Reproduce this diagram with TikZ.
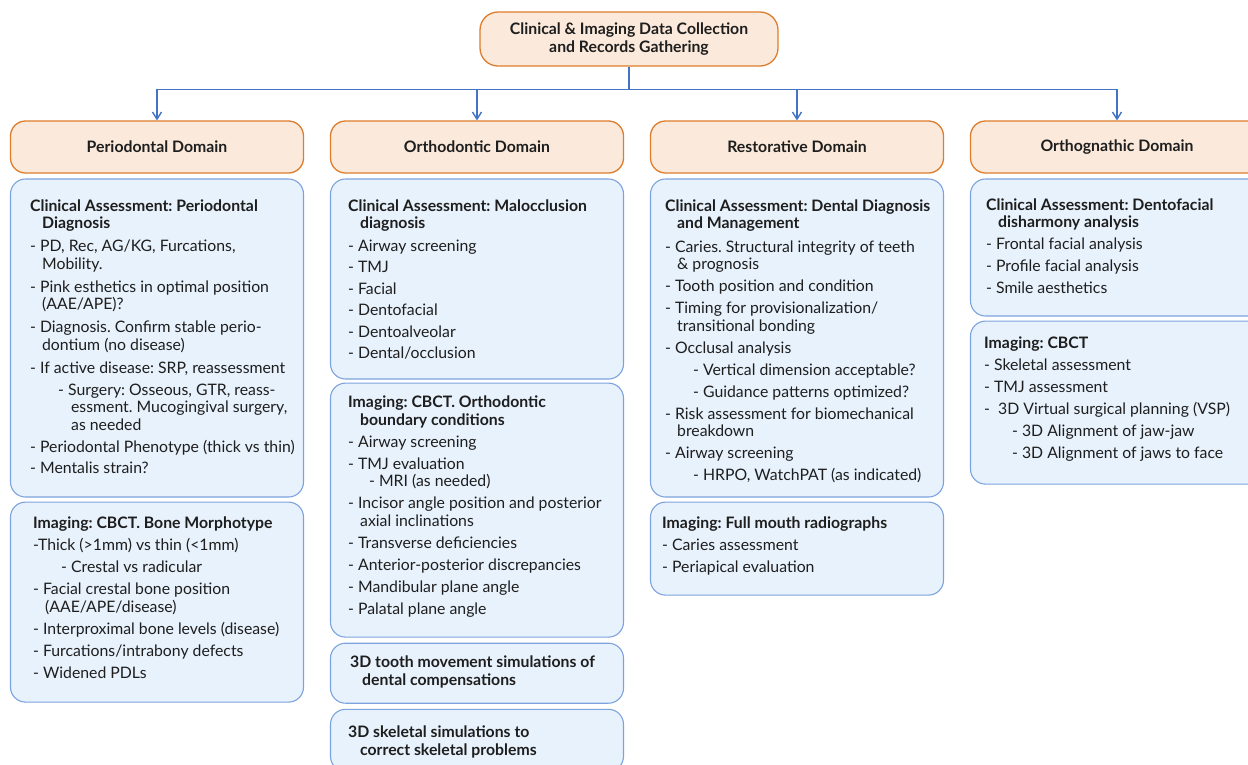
\documentclass[tikz,border=0pt]{standalone}
\usepackage{fontspec}
\setmainfont{Lato}
\usetikzlibrary{arrows.meta,positioning}
\definecolor{domainfill}{RGB}{251,234,219}
\definecolor{domainline}{RGB}{222,125,45}
\definecolor{infofill}{RGB}{232,242,252}
\definecolor{infoline}{RGB}{125,163,222}
\definecolor{linkblue}{RGB}{68,114,196}
\definecolor{textdark}{RGB}{30,30,30}
\newcommand{\indcont}{\hspace*{12pt}}
\newcommand{\indsub}{\hspace*{28pt}}
\newcommand{\indsubcont}{\hspace*{41pt}}
\frenchspacing

\begin{document}
\begin{tikzpicture}[x=1pt,y=-1pt,
    every node/.style={text=textdark},
    domainbox/.style={draw=domainline,fill=domainfill,line width=1.3pt,rounded corners=15pt,minimum width=293pt,minimum height=52pt,font=\fontsize{15.8}{18}\selectfont\bfseries},
    infobox/.style={draw=infoline,fill=infofill,line width=1.1pt,rounded corners=15pt,minimum width=293pt,inner sep=0pt},
    boxtext/.style={anchor=north west,align=left,inner sep=0pt,font=\fontsize{15.8}{17.5}\selectfont},
    link/.style={draw=linkblue,line width=1.4pt,-{Straight Barb[length=7pt,width=9pt]}}]
		\path[use as bounding box,fill=white] (0,0) rectangle (1248,764);

		\node[domainbox,minimum width=298pt,minimum height=54pt,rounded corners=18pt,align=center] (collect) at (629,39) {Clinical \& Imaging Data Collection\\and Records Gathering};
		\node[domainbox] (perio) at (157,147) {Periodontal Domain};
		\node[domainbox,right=25.7pt of perio] (ortho) {Orthodontic Domain};
		\node[domainbox,right=25.7pt of ortho] (resto) {Restorative Domain};
		\node[domainbox,right=25.7pt of resto] (gnath) {Orthognathic Domain};

		\coordinate[below=23pt of collect.south] (bar);
		\draw[link] (collect.south) -- (bar) -| (perio.north);
		\draw[link] (collect.south) -- (bar) -| (ortho.north);
		\draw[link] (collect.south) -- (bar) -| (resto.north);
		\draw[link] (collect.south) -- (bar) -| (gnath.north);

		% boxes under each domain.
		\node[infobox,minimum height=318pt,below=4.8pt of perio] (pclin) {};
		\node[infobox,minimum height=200pt,below=4pt of pclin] (pimg) {};
		\node[infobox,minimum height=200pt,below=4.8pt of ortho] (oclin) {};
		\node[infobox,minimum height=254pt,below=3pt of oclin] (oimg) {};
		\node[infobox,minimum height=60pt,below=5pt of oimg] (otooth) {};
		\node[infobox,minimum height=62pt,below=5pt of otooth] (oskel) {};
		\node[infobox,minimum height=318pt,below=4.8pt of resto] (rclin) {};
		\node[infobox,minimum height=93pt,below=4pt of rclin] (rimg) {};
		\node[infobox,minimum height=137pt,below=4.8pt of gnath] (gclin) {};
		\node[infobox,minimum height=163pt,below=4pt of gclin] (gimg) {};

		% texts of the boxes.
		\node[boxtext] (pclintxt) at ([xshift=20pt,yshift=-21pt]pclin.north west) {\textbf{Clinical Assessment: Periodontal}\\
			\indcont\textbf{Diagnosis}\\[5.5pt]
			- PD, Rec, AG/KG, Furcations,\\
			\indcont Mobility.\\[5.5pt]
			- Pink esthetics in optimal position\\
			\indcont (AAE/APE)?\\[5.5pt]
			- Diagnosis. Confirm stable perio-\\
			\indcont dontium (no disease)\\[5.5pt]
			- If active disease: SRP, reassessment\\[4.5pt]
			\indsub - Surgery: Osseous, GTR, reass-\\
			\indsubcont essment. Mucogingival surgery,\\
			\indsubcont as needed\\[5pt]
			- Periodontal Phenotype (thick vs thin)\\[3.5pt]
			- Mentalis strain?};
		\node[boxtext] (pimgtxt) at ([xshift=23pt,yshift=-15pt]pimg.north west) {\textbf{Imaging: CBCT. Bone Morphotype}\\[4.5pt]
			-Thick (>1mm) vs thin (<1mm)\\[4.5pt]
			\indsub - Crestal vs radicular\\[4.5pt]
			- Facial crestal bone position\\
			\indcont (AAE/APE/disease)\\[4.5pt]
			- Interproximal bone levels (disease)\\[4.5pt]
			- Furcations/intrabony defects\\[4.5pt]
			- Widened PDLs};

		\node[boxtext] (oclintxt) at ([xshift=18pt,yshift=-21pt]oclin.north west) {\textbf{Clinical Assessment: Malocclusion}\\
			\indcont\textbf{diagnosis}\\[5pt]
			- Airway screening\\[4pt]
			- TMJ\\[4pt]
			- Facial\\[4pt]
			- Dentofacial\\[4pt]
			- Dentoalveolar\\[4pt]
			- Dental/occlusion};
		\node[boxtext] (oimgtxt) at ([xshift=18pt,yshift=-13pt]oimg.north west) {\textbf{Imaging: CBCT. Orthodontic}\\
			\indcont\textbf{boundary conditions}\\[4.5pt]
			- Airway screening\\[4.5pt]
			- TMJ evaluation\\
			\hspace*{21pt}- MRI (as needed)\\[4.5pt]
			- Incisor angle position and posterior\\
			\indcont axial inclinations\\[4.5pt]
			- Transverse deficiencies\\[4.5pt]
			- Anterior-posterior discrepancies\\[4.5pt]
			- Mandibular plane angle\\[4.5pt]
			- Palatal plane angle};
		\node[boxtext] (otoothtxt) at ([xshift=20pt,yshift=-13pt]otooth.north west) {\textbf{3D tooth movement simulations of}\\
			\indcont\textbf{dental compensations}};
		\node[boxtext] (oskeltxt) at ([xshift=18pt,yshift=-17pt]oskel.north west) {\textbf{3D skeletal simulations to}\\
			\indcont\textbf{correct skeletal problems}};

		\node[boxtext] (rclintxt) at ([xshift=15pt,yshift=-21pt]rclin.north west) {\textbf{Clinical Assessment: Dental Diagnosis}\\
			\indcont\textbf{and Management}\\[6pt]
			- Caries. Structural integrity of teeth\\
			\indcont\& prognosis\\[4.5pt]
			- Tooth position and condition\\[4.5pt]
			- Timing for provisionalization/\\
			\indcont transitional bonding\\[4.5pt]
			- Occlusal analysis\\[4.5pt]
			\indsub - Vertical dimension acceptable?\\[4.5pt]
			\indsub - Guidance patterns optimized?\\[4.5pt]
			- Risk assessment for biomechanical\\
			\indcont breakdown\\[4.5pt]
			- Airway screening\\[4.5pt]
			\indsub - HRPO, WatchPAT (as indicated)};
		\node[boxtext] (rimgtxt) at ([xshift=12pt,yshift=-15pt]rimg.north west) {\textbf{Imaging: Full mouth radiographs}\\[4.5pt]
			- Caries assessment\\[4.5pt]
			- Periapical evaluation};

		\node[boxtext] (gclintxt) at ([xshift=16pt,yshift=-20pt]gclin.north west) {\textbf{Clinical Assessment: Dentofacial}\\
			\indcont\textbf{disharmony analysis}\\[4.5pt]
			- Frontal facial analysis\\[4.5pt]
			- Profile facial analysis\\[4.5pt]
			- Smile aesthetics};
		\node[boxtext] (gimgtxt) at ([xshift=14pt,yshift=-16pt]gimg.north west) {\textbf{Imaging: CBCT}\\[4.5pt]
			- Skeletal assessment\\[4.5pt]
			- TMJ assessment\\[4.5pt]
			- \ 3D Virtual surgical planning (VSP)\\[4.5pt]
			\indsub - 3D Alignment of jaw-jaw\\[4.5pt]
			\indsub - 3D Alignment of jaws to face};
\end{tikzpicture}
\end{document}
